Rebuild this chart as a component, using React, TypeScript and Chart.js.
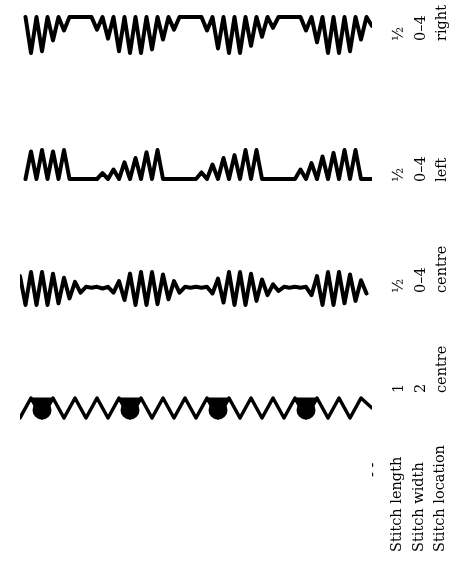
import React, { useEffect, useRef } from "react";
import { Chart, registerables } from "chart.js";

Chart.register(...registerables);

// ---- table text ----
const headerLabels = ["Stitch length", "Stitch width", "Stitch location"];
const stitchLengthLabels = ["½", "½", "½", "1"];
const stitchWidthLabels = ["0–4", "0–4", "0–4", "2"];
const stitchLocationLabels = ["right", "left", "centre", "centre"];

// stitch spacing along the seam for each sample (mm)
const stitchPitch = [0.5, 0.5, 0.5, 1];

// lateral needle position of each stitch (mm; + = right, - = left)
const rightRow = [
  null, 2, -2, 2, -1.8, 2, -0.6, 2, 0.5, 2,
  2, 2, 2, 2, 0.6, 2, -0.4, 2, -1.8, 2,
  -2, 2, -2, 2, -1.6, 2, -0.5, 2, 0.6, 2,
  2, 2, 2, 2, 0.5, 2, -1.5, 2, -2, 2,
  -2, 2, -1.2, 2, -0.2, 2, 0.8, 2, 2, 2,
  2, 2, 0.5, 2, -0.8, 2, -2, 2, -2, 2,
  -1.8, 2, -0.5, 2, 1.0,
];

const leftRow = [
  null, -2, 1.8, -2, 2, -2, 1.8, -2, 2, -2,
  -2, -2, -2, -2, -2, -1.2, -2, -0.7, -2, 0.3,
  -2, 0.9, -2, 1.7, -2, 2, -2, -2, -2, -2,
  -2, -2, -2, -1.1, -2, 0, -2, 0.9, -2, 1.3,
  -2, 2, -2, 2, -2, -2, -2, -2, -2, -2,
  -2, -0.7, -2, 0.2, -2, 1.1, -2, 1.6, -2, 2,
  -2, 2, -2, -2, -2,
];

const centreRow = [
  1.5, -2, 2, -2, 2, -2, 1.8, -1.8, 1.3, -1.2,
  0.8, -0.5, 0.2, 0.1, 0.2, 0, 0.2, -0.5, 0.9, -1.4,
  1.8, -2, 2, -2, 2, -1.9, 1.7, -1.3, 0.9, -0.5,
  0.2, 0.1, 0.2, 0.1, 0.2, -0.6, 1.2, -1.7, 2, -2,
  2, -2, 1.8, -1.5, 1.1, -0.8, 0.5, -0.3, 0.2, 0.1,
  0.2, 0.1, 0.2, -0.8, 1.5, -2, 2, -2, 2, -1.8,
  1.7, -1.5, 1, -0.6,
];

const plainRow = [
  -1, 1, -1, 1, -1, 1, -1, 1, -1, 1,
  -1, 1, -1, 1, -1, 1, -1, 1, -1, 1,
  -1, 1, -1, 1, -1, 1, -1, 1, -1, 1,
  -1, 1, 0,
];

// stitches of the plain row where the thread bunches into a knot
const knotStitches = [2, 10, 18, 26];

// ---- layout (pixels) ----
const W = 455;
const H = 561;
const INK = "#000";
const rowCenterPx = [35, 164.5, 288.5, 408];
const rowPxPerMm = [9, 7.25, 8.25, 10];
const colCenterPx = [398, 420, 441];
const rowTextBottomPx = [41, 182, 293, 393];
const headerBottomPx = 552;
const FONT = 14.5;

function RotText({ text, cx, bottom }: { text: string; cx: number; bottom: number }) {
  return (
    <span
      style={{
        position: "absolute",
        left: cx - FONT / 2,
        top: bottom,
        transformOrigin: "0 0",
        transform: "rotate(-90deg)",
        whiteSpace: "nowrap",
        lineHeight: 1,
        fontSize: FONT,
        fontFamily: '"DejaVu Serif", serif',
        color: INK,
      }}
    >
      {text}
    </span>
  );
}

export default function App() {
  const ref = useRef<HTMLCanvasElement>(null);

  useEffect(() => {
    if (!ref.current) return;
    const rows = [rightRow, leftRow, centreRow, plainRow];
    const datasets: any[] = rows.map((row, k) => ({
      type: "line",
      data: row.map((u, i) => ({ x: i * stitchPitch[k], y: u })),
      yAxisID: "y" + k,
      borderColor: INK,
      borderWidth: k === 3 ? 3.5 : 4,
      borderJoinStyle: "round",
      borderCapStyle: "round",
      pointRadius: 0,
      tension: 0,
      spanGaps: false,
    }));
    // knot: wide top, narrowing to the trough
    datasets.push({
      type: "line",
      data: knotStitches.map((i) => ({ x: i * stitchPitch[3], y: 0.35 })),
      yAxisID: "y3",
      showLine: false,
      pointStyle: "triangle",
      rotation: 180,
      pointRadius: 13,
      pointBackgroundColor: INK,
      pointBorderColor: INK,
      pointBorderWidth: 1,
    });
    datasets.push({
      type: "line",
      data: knotStitches.map((i) => ({ x: i * stitchPitch[3], y: -0.2 })),
      yAxisID: "y3",
      showLine: false,
      pointRadius: 9.5,
      pointBackgroundColor: INK,
      pointBorderWidth: 0,
    });

    const scales: any = {
      x: { type: "linear", min: 0, max: 32, display: false },
    };
    rowCenterPx.forEach((c, k) => {
      scales["y" + k] = {
        type: "linear",
        display: false,
        min: -(H - c) / rowPxPerMm[k],
        max: c / rowPxPerMm[k],
      };
    });

    const chart = new Chart(ref.current, {
      type: "line",
      data: { datasets },
      options: {
        responsive: false,
        animation: false,
        events: [],
        layout: { autoPadding: false, padding: { left: 20, right: W - 372, top: 0, bottom: 0 } },
        plugins: { legend: { display: false }, tooltip: { enabled: false } },
        scales,
      },
    } as any);
    return () => chart.destroy();
  }, []);

  const texts: { t: string; cx: number; b: number }[] = [];
  for (let r = 0; r < 4; r++) {
    texts.push({ t: stitchLengthLabels[r], cx: colCenterPx[0], b: rowTextBottomPx[r] });
    texts.push({ t: stitchWidthLabels[r], cx: colCenterPx[1], b: rowTextBottomPx[r] });
    texts.push({ t: stitchLocationLabels[r], cx: colCenterPx[2], b: rowTextBottomPx[r] });
  }
  headerLabels.forEach((h, i) => texts.push({ t: h, cx: colCenterPx[i] - 2, b: headerBottomPx }));

  return (
    <div style={{ position: "absolute", left: 0, top: 0, width: W, height: H, background: "#fff", overflow: "hidden" }}>
      <canvas ref={ref} width={W} height={H} style={{ position: "absolute", left: 0, top: 0, width: W, height: H }} />
      {texts.map((o, i) => (
        <RotText key={i} text={o.t} cx={o.cx} bottom={o.b} />
      ))}
      <RotText text="- -" cx={372} bottom={477} />
    </div>
  );
}
